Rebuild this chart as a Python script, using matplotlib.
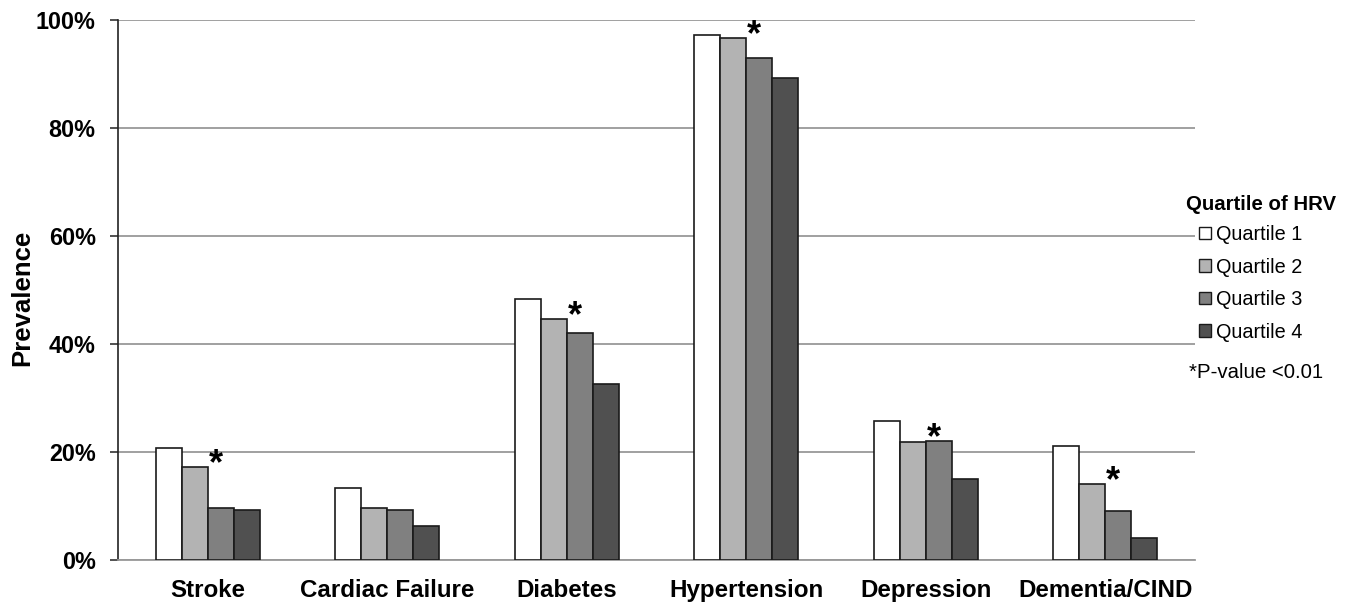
import numpy as np
import matplotlib
matplotlib.use("Agg")
from matplotlib import pyplot as plt
from matplotlib.patches import Patch
from matplotlib.ticker import PercentFormatter

plt.rcParams['font.family'] = ['Liberation Sans', 'DejaVu Sans']

categories = ["Stroke", "Cardiac Failure", "Diabetes", "Hypertension", "Depression", "Dementia/CIND"]
quartiles = ["Quartile 1", "Quartile 2", "Quartile 3", "Quartile 4"]
q1 = [20.8, 13.3, 48.3, 97.2, 25.8, 21.2]
q2 = [17.2, 9.6, 44.6, 96.7, 21.9, 14.1]
q3 = [9.6, 9.2, 42.0, 92.9, 22.0, 9.1]
q4 = [9.2, 6.3, 32.6, 89.3, 15.0, 4.0]
significant = [True, False, True, True, True, True]

colors = ["#ffffff", "#b3b3b3", "#808080", "#505050"]

fig = plt.figure(figsize=(13.59, 6.08), dpi=100)
ax = fig.add_axes([118/1359, 48/608, (1195-118)/1359, 540/608])

x = np.arange(len(categories))
w = 0.145
series = [q1, q2, q3, q4]
for i, vals in enumerate(series):
    ax.bar(x + (i - 1.5)*w, vals, w, color=colors[i], edgecolor="#1a1a1a",
           linewidth=1.2, label=quartiles[i], zorder=3)

# stars just right of the Q2/Q3 boundary
for j in range(len(categories)):
    if significant[j]:
        top = max(q2[j], q3[j])
        ax.text(x[j] + 0.045, top + 0.4, "*", ha="center", va="center",
                fontsize=26, fontweight="bold", zorder=4)

ax.set_xlim(-0.5, len(categories) - 0.5)
ax.set_ylim(0, 100)
ax.set_yticks(np.arange(0, 101, 20))
ax.yaxis.set_major_formatter(PercentFormatter(decimals=0))
ax.grid(axis="y", color="#999999", linewidth=1.3, zorder=0)
ax.set_xticks(x)
ax.set_xticklabels(categories, fontsize=17.4, fontweight="bold")
ax.tick_params(axis="x", length=0, pad=14)
ax.tick_params(axis="y", labelsize=16.8, length=5.8, width=1.2, color="#333333", pad=10.3)
for lab in ax.get_yticklabels():
    lab.set_fontweight("bold")
ax.set_ylabel("Prevalence", fontsize=18.5, fontweight="bold")
ax.yaxis.set_label_coords(34/1359, (608-298)/608, transform=fig.transFigure)

for s in ["top", "right"]:
    ax.spines[s].set_visible(False)
ax.spines["left"].set_color("#222222")
ax.spines["left"].set_linewidth(1.2)
ax.spines["bottom"].set_color("#999999")
ax.spines["bottom"].set_linewidth(1.3)

handles = [Patch(facecolor=colors[i], edgecolor="#1a1a1a", linewidth=1, label=quartiles[i])
           for i in range(4)]
fig.legend(handles=handles, loc="upper left", bbox_to_anchor=(1199/1359, 1 - 225/608),
           frameon=False, fontsize=14.3, handlelength=0.6, handleheight=0.6,
           handletextpad=0.28, labelspacing=0.68, borderaxespad=0, borderpad=0)
fig.text(1186/1359, 1 - 205/608, "Quartile of HRV", fontsize=14.7, fontweight="bold",
         va="center", ha="left")
fig.text(1189/1359, 1 - 373/608, "*P-value <0.01", fontsize=14.7, va="center", ha="left")

fig.savefig("out.png", dpi=100)
